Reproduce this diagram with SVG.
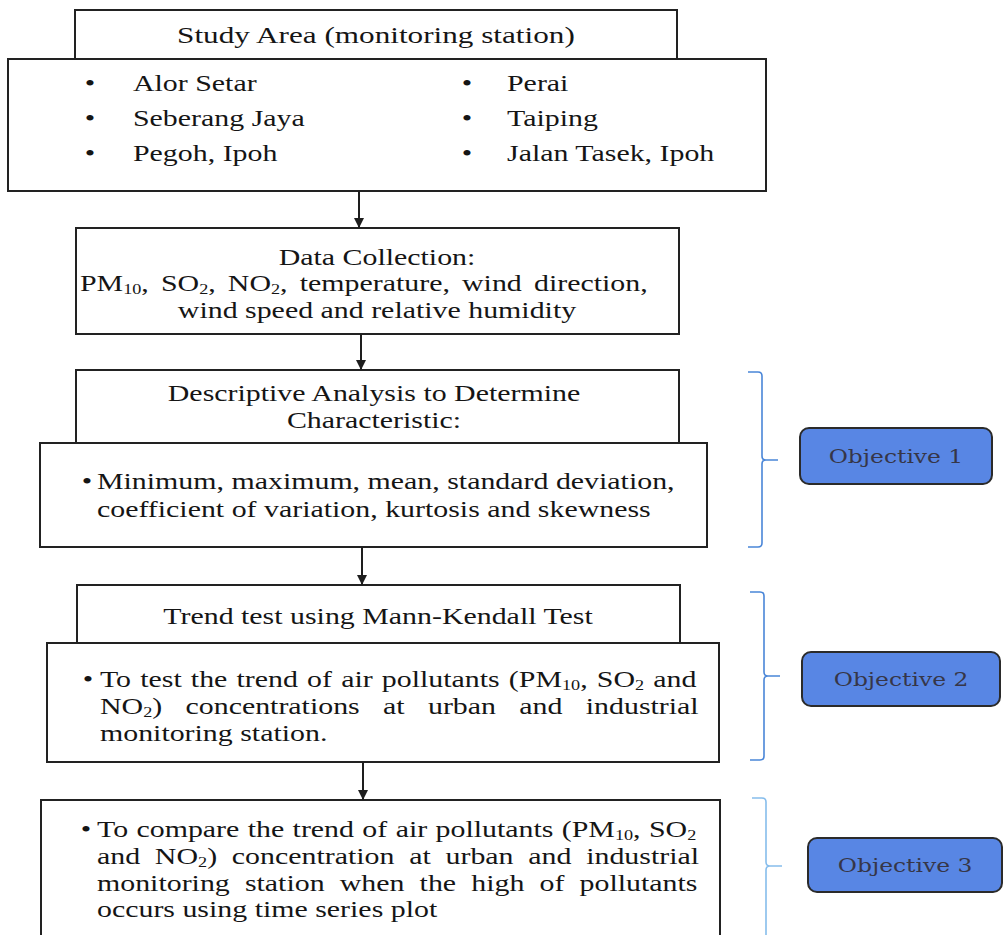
<svg xmlns="http://www.w3.org/2000/svg" width="1003" height="935" viewBox="0 0 1003 935">
<style>
.box{fill:#fff;stroke:#222;stroke-width:2}
.t{font-family:"Liberation Serif","Times New Roman",serif;font-size:23px;fill:#151515}
.s{font-size:14px}
.obj{fill:#5886e4;stroke:#2b2b2b;stroke-width:2}
.ot{font-family:"DejaVu Serif",serif;font-size:18px;fill:#363648}
.br{fill:none;stroke:#4a86d8;stroke-width:1.6}
.br3{fill:none;stroke:#86bdec;stroke-width:1.6}
.conn{stroke:#1e1e1e;stroke-width:2;fill:none;marker-end:url(#ah)}
</style>
<defs>
<marker id="ah" markerUnits="userSpaceOnUse" markerWidth="10" markerHeight="11" refX="10" refY="5" orient="auto" viewBox="0 0 10 10">
<path d="M0,0 L10,5 L0,10 z" fill="#1e1e1e"/>
</marker>
</defs>
<rect width="1003" height="935" fill="#fff"/>

<g id="study-area">
<rect class="box" x="75" y="10" width="602" height="49"/>
<text class="t" transform="scale(1.3,1)" x="289.2" y="43" text-anchor="middle" style="font-size:24px">Study Area (monitoring station)</text>
</g>

<g id="stations">
<rect class="box" x="8" y="59" width="758" height="132"/>
<text class="t" transform="scale(1.3,1)" x="69.2" y="91" text-anchor="middle">•</text>
<text class="t" transform="scale(1.3,1)" x="69.2" y="126" text-anchor="middle">•</text>
<text class="t" transform="scale(1.3,1)" x="69.2" y="161" text-anchor="middle">•</text>
<text class="t" transform="scale(1.3,1)" x="102.3" y="91">Alor Setar</text>
<text class="t" transform="scale(1.3,1)" x="102.3" y="126">Seberang Jaya</text>
<text class="t" transform="scale(1.3,1)" x="102.3" y="161">Pegoh, Ipoh</text>
<text class="t" transform="scale(1.3,1)" x="359.2" y="91" text-anchor="middle">•</text>
<text class="t" transform="scale(1.3,1)" x="359.2" y="126" text-anchor="middle">•</text>
<text class="t" transform="scale(1.3,1)" x="359.2" y="161" text-anchor="middle">•</text>
<text class="t" transform="scale(1.3,1)" x="390" y="91">Perai</text>
<text class="t" transform="scale(1.3,1)" x="390" y="126">Taiping</text>
<text class="t" transform="scale(1.3,1)" x="390" y="161">Jalan Tasek, Ipoh</text>
</g>

<g id="data-collection">
<rect class="box" x="76" y="228" width="603" height="106"/>
<text class="t" transform="scale(1.3,1)" x="290" y="265" text-anchor="middle">Data Collection:</text>
<text class="t" transform="scale(1.3,1)" x="61.5" y="291" word-spacing="3.6">PM<tspan class="s" dy="3">10</tspan><tspan dy="-3">, SO</tspan><tspan class="s" dy="3">2</tspan><tspan dy="-3">, NO</tspan><tspan class="s" dy="3">2</tspan><tspan dy="-3">, temperature, wind direction,</tspan></text>
<text class="t" transform="scale(1.3,1)" x="290" y="318" text-anchor="middle">wind speed and relative humidity</text>
</g>

<g id="descriptive-analysis">
<rect class="box" x="76" y="370" width="603" height="73"/>
<rect class="box" x="40" y="443" width="667" height="104"/>
<text class="t" transform="scale(1.3,1)" x="287.7" y="401" text-anchor="middle">Descriptive Analysis to Determine</text>
<text class="t" transform="scale(1.3,1)" x="287.7" y="428" text-anchor="middle">Characteristic:</text>
<text class="t" transform="scale(1.3,1)" x="66.9" y="489" text-anchor="middle">•</text>
<text class="t" transform="scale(1.3,1)" x="74.6" y="489">Minimum, maximum, mean, standard deviation,</text>
<text class="t" transform="scale(1.3,1)" x="74.6" y="517">coefficient of variation, kurtosis and skewness</text>
</g>

<g id="trend-test">
<rect class="box" x="77" y="585" width="603" height="58"/>
<rect class="box" x="47" y="643" width="672" height="119"/>
<text class="t" transform="scale(1.3,1)" x="290.8" y="624" text-anchor="middle">Trend test using Mann-Kendall Test</text>
<text class="t" transform="scale(1.3,1)" x="67.7" y="687" text-anchor="middle">•</text>
<text class="t" transform="scale(1.3,1)" x="76.9" y="687" word-spacing="1.3">To test the trend of air pollutants (PM<tspan class="s" dy="3">10</tspan><tspan dy="-3">, SO</tspan><tspan class="s" dy="3">2</tspan><tspan dy="-3"> and</tspan></text>
<text class="t" transform="scale(1.3,1)" x="76.9" y="714" word-spacing="12.2">NO<tspan class="s" dy="3">2</tspan><tspan dy="-3">) concentrations at urban and industrial</tspan></text>
<text class="t" transform="scale(1.3,1)" x="76.9" y="741">monitoring station.</text>
</g>

<g id="compare-trend">
<rect class="box" x="41" y="800" width="679" height="145"/>
<text class="t" transform="scale(1.3,1)" x="66.2" y="837" text-anchor="middle">•</text>
<text class="t" transform="scale(1.3,1)" x="74.6" y="837" word-spacing="0.7">To compare the trend of air pollutants (PM<tspan class="s" dy="3">10</tspan><tspan dy="-3">, SO</tspan><tspan class="s" dy="3">2</tspan></text>
<text class="t" transform="scale(1.3,1)" x="74.6" y="864" word-spacing="5.6">and NO<tspan class="s" dy="3">2</tspan><tspan dy="-3">) concentration at urban and industrial</tspan></text>
<text class="t" transform="scale(1.3,1)" x="74.6" y="891" word-spacing="5.9">monitoring station when the high of pollutants</text>
<text class="t" transform="scale(1.3,1)" x="74.6" y="917">occurs using time series plot</text>
</g>

<g id="objective-1">
<rect class="obj" x="800" y="428" width="192" height="56" rx="9"/>
<text class="ot" transform="scale(1.3,1)" x="689.2" y="463" text-anchor="middle">Objective 1</text>
</g>
<g id="objective-2">
<rect class="obj" x="802" y="652" width="198" height="54" rx="9"/>
<text class="ot" transform="scale(1.3,1)" x="693.1" y="686" text-anchor="middle">Objective 2</text>
</g>
<g id="objective-3">
<rect class="obj" x="808" y="838" width="194" height="54" rx="9"/>
<text class="ot" transform="scale(1.3,1)" x="696.2" y="872" text-anchor="middle">Objective 3</text>
</g>

<g id="connectors">
<line class="conn" x1="359" y1="191" x2="359" y2="228"/>
<line class="conn" x1="361" y1="334" x2="361" y2="370"/>
<line class="conn" x1="362" y1="547" x2="362" y2="585"/>
<line class="conn" x1="363" y1="762" x2="363" y2="800"/>
<path class="br" d="M748 372 H758 Q762 372 762 376 V456 Q762 460 766 460 H778 M766 460 Q762 460 762 464 V543 Q762 547 758 547 H748"/>
<path class="br" d="M750 592 H760 Q764 592 764 596 V672 Q764 676 768 676 H780 M768 676 Q764 676 764 680 V756 Q764 760 760 760 H750"/>
<path class="br3" d="M752 798 H762 Q766 798 766 802 V862 Q766 866 770 866 H782 M770 866 Q766 866 766 870 V940"/>
</g>
</svg>
